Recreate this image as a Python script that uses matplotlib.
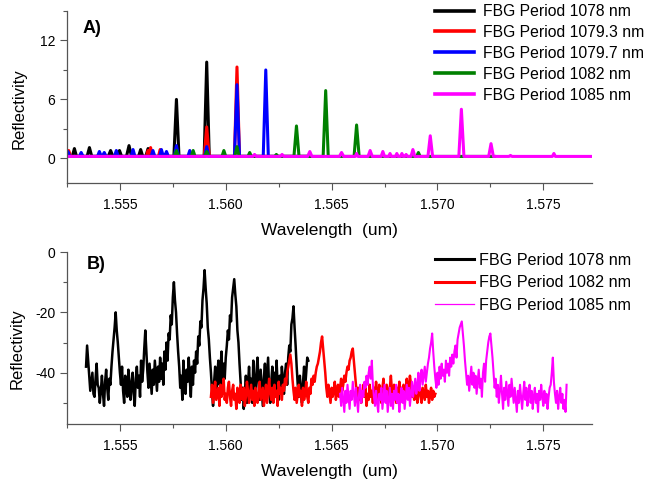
import numpy as np
import matplotlib
matplotlib.use("Agg")
import matplotlib.pyplot as plt
from matplotlib.ticker import MultipleLocator, FormatStrFormatter

plt.rcParams["font.family"] = ["Liberation Sans", "DejaVu Sans"]
plt.rcParams["axes.unicode_minus"] = False

# ---- panel A: reflectivity spectra (linear) ----
wl_a_1078 = [1.5525, 1.55275, 1.55285, 1.55295, 1.55345, 1.55356, 1.55367,
             1.55445, 1.55456, 1.55467, 1.55488, 1.55498, 1.55508,
             1.55531, 1.55543, 1.55555, 1.55588, 1.55598, 1.55608,
             1.55622, 1.55633, 1.55644, 1.55755, 1.55767, 1.55779,
             1.55898, 1.5591, 1.55922, 1.5640]
r_a_1078 = [0.2, 0.2, 1.0, 0.2, 0.2, 1.1, 0.2,
            0.2, 0.8, 0.2, 0.2, 0.8, 0.2,
            0.2, 1.3, 0.2, 0.2, 0.9, 0.2,
            0.2, 1.0, 0.2, 0.2, 6.0, 0.2,
            0.2, 9.8, 0.2, 0.2]

wl_a_10793 = [1.5525, 1.55258, 1.55268, 1.55625, 1.55633, 1.55639, 1.55645,
              1.55653, 1.55682, 1.5569, 1.55698, 1.55898, 1.5591, 1.55922,
              1.56041, 1.56053, 1.56065, 1.5640]
r_a_10793 = [0.3, 0.8, 0.2, 0.2, 0.8, 0.5, 1.1,
             0.2, 0.2, 0.9, 0.2, 0.2, 3.2, 0.2,
             0.2, 9.3, 0.2, 0.2]

wl_a_10797 = [1.5525, 1.55254, 1.55264, 1.55308, 1.55317, 1.55326,
              1.55394, 1.55403, 1.55412, 1.55417, 1.55426, 1.55435,
              1.55474, 1.55483, 1.55492, 1.55553, 1.55562, 1.55571,
              1.55647, 1.55656, 1.55665, 1.55687, 1.55696, 1.55705,
              1.55711, 1.5572, 1.55729, 1.55757, 1.55767, 1.55777,
              1.55821, 1.5583, 1.55839, 1.559, 1.5591, 1.5592,
              1.56041, 1.56053, 1.56065, 1.56177, 1.56189, 1.56201, 1.5640]
r_a_10797 = [0.2, 0.7, 0.2, 0.2, 0.6, 0.2,
             0.2, 0.7, 0.2, 0.2, 0.6, 0.2,
             0.2, 0.8, 0.2, 0.2, 0.9, 0.2,
             0.2, 0.8, 0.2, 0.2, 0.9, 0.2,
             0.2, 0.7, 0.2, 0.2, 1.3, 0.2,
             0.2, 0.8, 0.2, 0.2, 1.2, 0.2,
             0.2, 7.5, 0.2, 0.2, 9.0, 0.2, 0.2]

wl_a_1082 = [1.5525, 1.55757, 1.55767, 1.55777, 1.55837, 1.55846, 1.55855,
             1.559, 1.5591, 1.5592, 1.55982, 1.55991, 1.56,
             1.56043, 1.56053, 1.56063, 1.56105, 1.56113, 1.56121,
             1.56231, 1.56239, 1.56247, 1.56322, 1.56334, 1.56346,
             1.5646, 1.56472, 1.56484, 1.56606, 1.56618, 1.5663,
             1.56902, 1.5691, 1.56918, 1.5727]
r_a_1082 = [0.2, 0.2, 0.8, 0.2, 0.2, 0.8, 0.2,
            0.2, 0.7, 0.2, 0.2, 0.8, 0.2,
            0.2, 1.2, 0.2, 0.2, 0.6, 0.2,
            0.2, 0.4, 0.2, 0.2, 3.3, 0.2,
            0.2, 6.9, 0.2, 0.2, 3.4, 0.2,
            0.2, 0.6, 0.2, 0.2]

wl_a_1085 = [1.5525, 1.56128, 1.56136, 1.56144, 1.56258, 1.56266, 1.56274,
             1.56387, 1.56397, 1.56407, 1.56537, 1.56547, 1.56557,
             1.56612, 1.56618, 1.56624, 1.56672, 1.56682, 1.56692,
             1.56734, 1.56742, 1.5675, 1.5677, 1.56776, 1.56782,
             1.56802, 1.56808, 1.56814, 1.56826, 1.56832, 1.56838,
             1.56846, 1.56852, 1.56858, 1.56875, 1.56884, 1.56893,
             1.56955, 1.56966, 1.56977, 1.57101, 1.57113, 1.57125,
             1.57242, 1.57253, 1.57264, 1.57338, 1.57345, 1.57352,
             1.57543, 1.5755, 1.57557, 1.57732]
r_a_1085 = [0.2, 0.2, 0.4, 0.2, 0.2, 0.4, 0.2,
            0.2, 0.7, 0.2, 0.2, 0.6, 0.2,
            0.2, 0.5, 0.2, 0.2, 0.8, 0.2,
            0.2, 0.7, 0.2, 0.2, 0.5, 0.2,
            0.2, 0.5, 0.2, 0.2, 0.5, 0.2,
            0.2, 0.4, 0.2, 0.2, 0.9, 0.2,
            0.2, 2.3, 0.2, 0.2, 5.0, 0.2,
            0.2, 1.5, 0.2, 0.2, 0.3, 0.2,
            0.2, 0.5, 0.2, 0.2]

# ---- panel B: measured spectra (dB), sampled every 0.05 nm ----
start_b_1078, start_b_1082, start_b_1085 = 1.5534, 1.5593, 1.5654
step_b = 0.00005
r_b_1078 = [
    -38, -31, -36, -41, -46, -43, -40, -47, -48, -42, -37, -44, -45, -50,
    -46, -41, -47, -51, -43, -39, -45, -49, -42, -44, -38, -33, -29, -25,
    -20, -26, -30, -35, -40, -44, -38, -46, -50, -41, -45, -48, -39, -43,
    -49, -44, -40, -47, -51, -42, -38, -45, -41, -48, -36, -43, -39, -32,
    -26, -33, -40, -45, -37, -42, -47, -39, -44, -36, -41, -46, -38, -43,
    -35, -42, -37, -44, -33, -39, -30, -36, -27, -29, -21, -24, -15, -10,
    -16, -20, -27, -33, -38, -45, -41, -49, -36, -44, -47, -39, -43, -35,
    -42, -48, -38, -44, -36, -40, -33, -37, -28, -31, -23, -25, -16, -12,
    -6, -12, -17, -25, -29, -35, -40, -46, -51, -43, -38, -47, -41, -36,
    -44, -39, -33, -45, -37, -42, -35, -31, -26, -29, -21, -23, -15, -12,
    -9, -14, -18, -26, -30, -37, -43, -49, -45, -52, -47, -41, -50, -44,
    -38, -46, -42, -50, -36, -44, -48, -40, -35, -43, -49, -39, -45, -51,
    -42, -37, -47, -41, -35, -46, -50, -43, -38, -45, -40, -48, -36, -44,
    -49, -41, -46, -38, -43, -47, -40, -37, -44, -35, -31, -33, -24, -22,
    -18, -25, -31, -38, -44, -48, -41, -46, -50, -43, -38, -45, -40, -35,
    -36,
]
r_b_1082 = [
    -48, -44, -50, -46, -43, -49, -47, -45, -51, -44, -48, -46, -42, -49,
    -47, -50, -45, -43, -48, -51, -46, -44, -49, -47, -52, -45, -48, -50,
    -44, -47, -49, -45, -51, -48, -43, -46, -50, -47, -44, -49, -46, -51,
    -45, -48, -50, -46, -43, -49, -47, -45, -51, -48, -44, -50, -46, -42,
    -47, -49, -45, -50, -44, -48, -46, -51, -43, -47, -45, -49, -44, -46,
    -42, -44, -40, -38, -36, -34, -37, -42, -46, -49, -45, -50, -47, -44,
    -48, -46, -51, -45, -49, -47, -43, -48, -50, -45, -47, -42, -44, -41,
    -43, -40, -38, -37, -35, -33, -30, -28, -32, -36, -40, -45, -48, -44,
    -47, -50, -45, -48, -46, -43, -49, -47, -44, -48, -45, -42, -46, -44,
    -41, -43, -40, -38, -39, -36, -35, -33, -32, -36, -40, -44, -48, -45,
    -49, -46, -50, -47, -44, -48, -45, -51, -47, -49, -44, -48, -46, -50,
    -45, -48, -43, -47, -49, -44, -46, -50, -45, -42, -47, -49, -44, -46,
    -48, -45, -41, -46, -49, -44, -47, -50, -45, -48, -43, -47, -49, -45,
    -44, -48, -46, -42, -47, -45, -41, -44, -48, -46, -49, -45, -47, -50,
    -46, -43, -48, -50, -45, -47, -49, -44, -48, -46, -50, -47, -45, -49,
    -46, -48, -47,
]
r_b_1085 = [
    -47, -51, -45, -49, -53, -46, -50, -44, -48, -52, -46, -49, -43, -47,
    -51, -45, -49, -53, -47, -44, -50, -46, -48, -43, -45, -41, -44, -40,
    -38, -42, -36, -44, -48, -51, -46, -50, -53, -47, -49, -45, -52, -48,
    -44, -50, -46, -53, -49, -45, -51, -47, -52, -46, -49, -44, -50, -47,
    -53, -48, -45, -50, -46, -52, -48, -44, -49, -45, -51, -47, -43, -48,
    -45, -42, -47, -44, -40, -46, -42, -39, -44, -41, -38, -43, -40, -37,
    -35, -32, -30, -27, -33, -38, -42, -45, -40, -44, -38, -42, -37, -41,
    -39, -43, -36, -40, -37, -41, -35, -38, -34, -37, -33, -31, -35, -29,
    -27, -25, -24, -23, -27, -31, -36, -40, -44, -41, -46, -42, -38, -44,
    -40, -45, -41, -47, -43, -39, -45, -42, -48, -40, -37, -43, -36, -33,
    -30, -28, -27, -31, -35, -40, -45, -42, -48, -44, -50, -46, -41, -47,
    -52, -45, -49, -43, -47, -51, -44, -48, -42, -46, -50, -45, -49, -53,
    -46, -50, -44, -48, -52, -47, -43, -49, -45, -51, -47, -44, -50, -46,
    -52, -48, -45, -50, -47, -53, -46, -49, -44, -48, -51, -46, -50, -47,
    -52, -48, -45, -44, -40, -35, -43, -47, -50, -46, -52, -48, -45, -50,
    -47, -52, -49, -53, -44,
]

XLIM = (1.5525, 1.5773)

fig = plt.figure(figsize=(6.46, 4.84), dpi=100)
ax_a = fig.add_axes([0.1037, 0.622, 0.8127, 0.3553])
ax_b = fig.add_axes([0.1037, 0.124, 0.8127, 0.3553])

ax_a.plot(wl_a_1078, r_a_1078, color="black", lw=2.2, label="FBG Period 1078 nm")
ax_a.plot(wl_a_10793, r_a_10793, color="red", lw=2.2, label="FBG Period 1079.3 nm")
ax_a.plot(wl_a_10797, r_a_10797, color="blue", lw=2.2, label="FBG Period 1079.7 nm")
ax_a.plot(wl_a_1082, r_a_1082, color="green", lw=2.2, label="FBG Period 1082 nm")
ax_a.plot(wl_a_1085, r_a_1085, color="magenta", lw=2.2, label="FBG Period 1085 nm")
ax_a.set_ylim(-2.5, 15)
ax_a.yaxis.set_major_locator(MultipleLocator(6))
ax_a.yaxis.set_minor_locator(MultipleLocator(3))


def wl_grid(start, n):
    return start + step_b * np.arange(n)


ax_b.plot(wl_grid(start_b_1078, len(r_b_1078)), r_b_1078, color="black", lw=1.8,
          label="FBG Period 1078 nm")
ax_b.plot(wl_grid(start_b_1082, len(r_b_1082)), r_b_1082, color="red", lw=1.8,
          label="FBG Period 1082 nm")
ax_b.plot(wl_grid(start_b_1085, len(r_b_1085)), r_b_1085, color="magenta", lw=1.5,
          label="FBG Period 1085 nm")
ax_b.set_ylim(-57, 0)
ax_b.yaxis.set_major_locator(MultipleLocator(20))
ax_b.yaxis.set_minor_locator(MultipleLocator(10))

for ax in (ax_a, ax_b):
    ax.set_xlim(*XLIM)
    ax.xaxis.set_major_locator(MultipleLocator(0.005))
    ax.xaxis.set_minor_locator(MultipleLocator(0.0025))
    ax.xaxis.set_major_formatter(FormatStrFormatter("%.3f"))
    for s in ("top", "right"):
        ax.spines[s].set_visible(False)
    for s in ("left", "bottom"):
        ax.spines[s].set_color("#555555")
        ax.spines[s].set_linewidth(0.9)
    ax.tick_params(which="major", length=5, width=0.8, color="#555555",
                   labelsize=10, direction="out")
    ax.tick_params(axis="x", which="major", pad=6)
    ax.tick_params(which="minor", length=3, width=0.8, color="#555555",
                   direction="out")
    ax.set_xlabel("Wavelength  (um)", fontsize=12.5)
    ax.set_ylabel("Reflectivity", fontsize=12)
    ax.xaxis.set_label_coords(0.5, -0.23)

ax_a.yaxis.set_label_coords(-0.076, 0.43)
ax_b.yaxis.set_label_coords(-0.08, 0.436)

ax_a.text(0.03, 0.90, "A)", transform=ax_a.transAxes, fontsize=13,
          fontweight="bold", va="center", ha="left")
ax_b.text(0.037, 0.93, "B)", transform=ax_b.transAxes, fontsize=13,
          fontweight="bold", va="center", ha="left")

leg_a = ax_a.legend(loc="upper left", bbox_to_anchor=(435 / 646, 1 - 4 / 484),
                    bbox_transform=fig.transFigure, frameon=False, fontsize=11.3,
                    borderpad=0, borderaxespad=0, handlelength=2.5,
                    handletextpad=0.55, labelspacing=0.38)
for line in leg_a.get_lines():
    line.set_linewidth(2.6)

leg_b = ax_b.legend(loc="upper left", bbox_to_anchor=(435 / 646, 1 - 253 / 484),
                    bbox_transform=fig.transFigure, frameon=False, fontsize=11.6,
                    borderpad=0, borderaxespad=0, handlelength=2.45,
                    handletextpad=0.3, labelspacing=0.45)
leg_b.get_lines()[0].set_linewidth(2.2)
leg_b.get_lines()[1].set_linewidth(2.2)
leg_b.get_lines()[2].set_linewidth(0.9)

fig.savefig("out.png", dpi=100)
